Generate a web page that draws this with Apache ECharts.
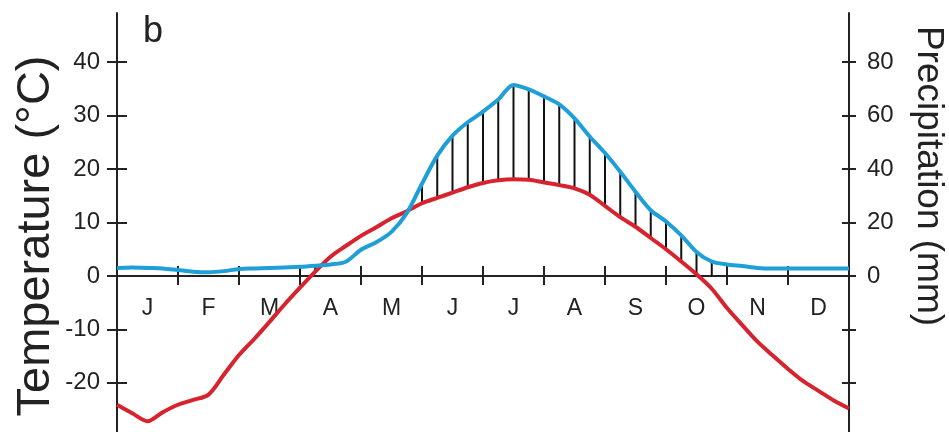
<!DOCTYPE html>
<html>
<head>
<meta charset="utf-8">
<script src="https://cdn.jsdelivr.net/npm/echarts@6/dist/echarts.min.js"></script>
<style>
html,body{margin:0;padding:0;background:#fff;}
#chart{width:949px;height:432px;}
</style>
</head>
<body>
<div id="chart"></div>
<script>
// month labels (category axis)
const months = ['J','F','M','A','M','J','J','A','S','O','N','D'];
// sample positions in months (quarter-month steps)
const monthPos = [0,0.25,0.5,0.75,1,1.25,1.5,1.75,2,2.25,2.5,2.75,3,3.25,3.5,3.75,4,4.25,4.5,4.75,5,5.25,5.5,5.75,6,6.25,6.5,6.75,7,7.25,7.5,7.75,8,8.25,8.5,8.75,9,9.25,9.5,9.75,10,10.25,10.5,10.75,11,11.25,11.5,11.75,12];
// temperature (°C)
const temperature = [-24.1,-25.7,-27.2,-25.5,-24.1,-23.2,-22.2,-18.5,-14.8,-11.8,-8.6,-5.3,-2.2,0.8,3.6,5.6,7.5,9.1,10.8,12.1,13.6,14.6,15.6,16.6,17.4,17.9,18.1,18.0,17.5,17.0,16.4,15.2,13.1,11.0,9.2,7.1,5.0,2.7,0.3,-2.4,-6.0,-9.2,-12.3,-14.9,-17.4,-19.7,-21.5,-23.3,-24.8];
// precipitation (mm)
const precipitation = [3.0,3.2,3.0,2.8,2.2,1.6,1.4,1.8,2.6,2.8,3.0,3.2,3.4,3.8,4.3,5.3,9.8,12.6,16.5,23.5,34.5,45.0,52.5,57.5,61.5,66.0,71.5,69.8,67.2,64.2,59.0,52.2,46.0,39.0,31.5,24.6,20.4,15.2,9.0,5.4,4.3,3.7,3.0,2.8,2.8,2.8,2.8,2.8,2.8];
// axis ticks
const tempTicks = [-20,-10,0,10,20,30,40];
const precTickMarks = [-40,-20,0,20,40,60,80];
const precLabels = [0,20,40,60,80];

const FONT = "'Liberation Sans', Arial, sans-serif";
const INK = '#222';

const tempData = monthPos.map((m,i)=>[m, temperature[i]]);
const precData = monthPos.map((m,i)=>[m, precipitation[i]]);
// hatch: where precipitation (scaled 2mm = 1°C) exceeds temperature during the warm season
const hatchData = [];
monthPos.forEach((m,i)=>{
  const p = precipitation[i]/2, t = temperature[i];
  if (p > t && t > -3) hatchData.push([m, Math.max(t,0), p]);
});

const T_MIN = -29.2, T_MAX = 49.2;
const GRID_TOP = 13, GRID_H = 419;
// distance of the zero line from the bottom of the grid, so the month axis sits on 0
const zeroOffset = -GRID_H * (0 - T_MIN) / (T_MAX - T_MIN);

const chart = echarts.init(document.getElementById('chart'), null, {renderer:'canvas'});
const yCommon = {type:'value', splitLine:{show:false}};
chart.setOption({
  animation:false,
  backgroundColor:'#fff',
  grid:{left:117, right:100, top:GRID_TOP, height:GRID_H, containLabel:false, outerBoundsMode:'none'},
  xAxis:[
    {type:'value', min:0, max:12, show:false},
    {type:'category', data:months, boundaryGap:true, position:'bottom', offset:zeroOffset,
     axisLine:{show:true, onZero:false, lineStyle:{color:INK, width:2}},
     axisTick:{show:true, inside:false, length:9, lineStyle:{color:INK, width:2}},
     axisLabel:{show:true, margin:21, color:INK, fontFamily:FONT, fontSize:23, verticalAlign:'top'},
     splitLine:{show:false}},
    {type:'category', data:months, boundaryGap:true, position:'bottom', offset:zeroOffset,
     axisLine:{show:false, onZero:false},
     axisTick:{show:true, inside:true, length:10, lineStyle:{color:INK, width:2}},
     axisLabel:{show:false}, splitLine:{show:false}}
  ],
  yAxis:[
    Object.assign({}, yCommon, {min:T_MIN, max:T_MAX, position:'left',
      axisLine:{show:true, onZero:false, lineStyle:{color:INK, width:2}},
      axisTick:{show:true, inside:false, length:10, customValues:tempTicks, lineStyle:{color:INK, width:2}},
      axisLabel:{show:true, customValues:tempTicks, margin:17, color:INK, fontFamily:FONT, fontSize:24}}),
    Object.assign({}, yCommon, {min:T_MIN, max:T_MAX, position:'left',
      axisLine:{show:false, onZero:false},
      axisTick:{show:true, inside:true, length:10, customValues:tempTicks, lineStyle:{color:INK, width:2}},
      axisLabel:{show:false}}),
    Object.assign({}, yCommon, {min:T_MIN*2, max:T_MAX*2, position:'right',
      axisLine:{show:true, onZero:false, lineStyle:{color:INK, width:2}},
      axisTick:{show:true, inside:false, length:7, customValues:precTickMarks, lineStyle:{color:INK, width:2}},
      axisLabel:{show:true, customValues:precLabels, margin:18, color:INK, fontFamily:FONT, fontSize:24}}),
    Object.assign({}, yCommon, {min:T_MIN*2, max:T_MAX*2, position:'right',
      axisLine:{show:false, onZero:false},
      axisTick:{show:true, inside:true, length:7, customValues:precTickMarks, lineStyle:{color:INK, width:2}},
      axisLabel:{show:false}})
  ],
  graphic:[
    {type:'text', left:143, top:14, style:{text:'b', font:"36px 'Liberation Sans', Arial, sans-serif", fill:INK}},
    {type:'text', x:36, y:236, rotation:Math.PI/2,
     style:{text:'Temperature (°C)', font:"47px 'Liberation Sans', Arial, sans-serif", fill:INK, align:'center', verticalAlign:'middle'}},
    {type:'text', x:928, y:176, rotation:-Math.PI/2,
     style:{text:'Precipitation (mm)', font:"37px 'Liberation Sans', Arial, sans-serif", fill:INK, align:'center', verticalAlign:'middle'}}
  ],
  series:[
    {type:'custom', xAxisIndex:0, yAxisIndex:0, z:1, data:hatchData,
     renderItem:function(params, api){
       const a = api.coord([api.value(0), api.value(1)]);
       const b = api.coord([api.value(0), api.value(2)]);
       return {type:'line', shape:{x1:a[0], y1:a[1], x2:b[0], y2:b[1]}, style:{stroke:'#111', lineWidth:2}};
     }},
    {type:'line', name:'Temperature', xAxisIndex:0, yAxisIndex:0, z:3, data:tempData, showSymbol:false, smooth:0.3,
     lineStyle:{color:'#d7232d', width:4}},
    {type:'line', name:'Precipitation', xAxisIndex:0, yAxisIndex:2, z:4, data:precData, showSymbol:false, smooth:0.3,
     lineStyle:{color:'#1f9fd8', width:4}}
  ]
});
</script>
</body>
</html>
